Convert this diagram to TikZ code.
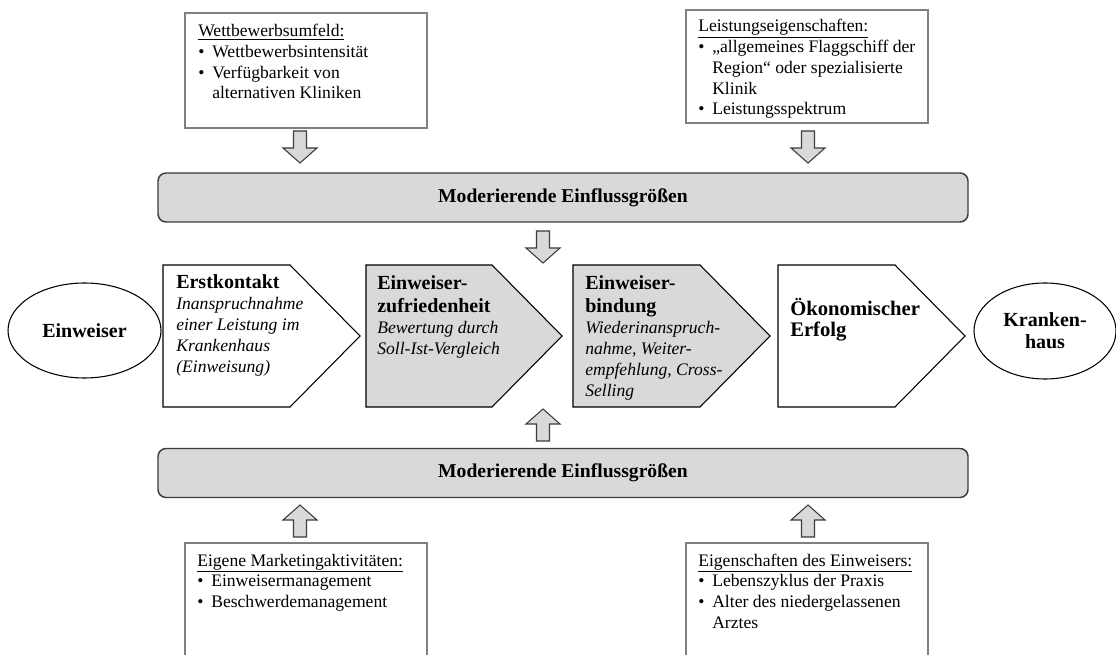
\documentclass[tikz,border=0pt]{standalone}
\usepackage{fontspec}
\setmainfont{Liberation Serif}
\usetikzlibrary{shapes.geometric}
\definecolor{fillg}{RGB}{217,217,217}
\definecolor{frameg}{RGB}{128,128,128}
\definecolor{edged}{RGB}{60,60,60}
\newcommand{\mylines}[1]{\begin{tabular}[t]{@{}l@{}}#1\end{tabular}}
\newcommand{\mybul}{\makebox[10.5pt][l]{•}}
\newcommand{\myind}{\hspace*{10.5pt}}
\newcommand{\mydownarrow}[2]{\draw[barrow] ({#1-6.5},#2) -- ({#1+6.5},#2) -- ({#1+6.5},{#2+17}) -- ({#1+17},{#2+17}) -- (#1,{#2+32}) -- ({#1-17},{#2+17}) -- ({#1-6.5},{#2+17}) -- cycle;}
\newcommand{\myuparrow}[2]{\draw[barrow] (#1,#2) -- ({#1+17},{#2+15}) -- ({#1+6.5},{#2+15}) -- ({#1+6.5},{#2+32}) -- ({#1-6.5},{#2+32}) -- ({#1-6.5},{#2+15}) -- ({#1-17},{#2+15}) -- cycle;}
\begin{document}
\begin{tikzpicture}[x=0.75pt,y=-0.75pt,
  infobox/.style={draw=frameg, line width=0.9pt, minimum width=181.5pt, inner sep=0pt},
  modbox/.style={draw=edged, fill=fillg, line width=1.1pt, rounded corners=6pt, minimum width=607.5pt, minimum height=36.75pt, font=\fontsize{14.7}{17}\selectfont\bfseries},
  chev/.style={draw=black, line width=0.8pt, line join=miter},
  chevg/.style={chev, fill=fillg},
  barrow/.style={draw=edged, fill=fillg, line width=0.8pt, line join=miter},
  txt/.style={anchor=base west, inner sep=0pt, font=\fontsize{13.2}{15.5}\selectfont},
  ttl/.style={anchor=base west, inner sep=0pt, font=\fontsize{15}{17.25}\selectfont\bfseries},
  itx/.style={anchor=base west, inner sep=0pt, font=\fontsize{13.2}{15.75}\selectfont\itshape},
  oval/.style={draw=black, line width=0.8pt, ellipse, inner sep=0pt, align=center, font=\fontsize{15}{16.5}\selectfont\bfseries}]
\useasboundingbox (0,0) rectangle (1116,655);
\clip (0,0) rectangle (1116,655);

% info boxes
\node[infobox, minimum height=86.25pt] (wett) at (306,70.5) {};
\node[infobox, minimum height=84.75pt] (leist) at (807,66.5) {};
\node[infobox, minimum height=91.5pt] (eigen) at (306,604) {};
\node[infobox, minimum height=91.5pt] (einwe) at (807,604) {};

\node[txt] (wetttxt) at (198,37) {\mylines{\underline{Wettbewerbsumfeld:}\\ \mybul Wettbewerbsintensität\\ \mybul Verfügbarkeit von\\ \myind alternativen Kliniken}};
\node[txt] (leisttxt) at (698,32) {\mylines{\underline{Leistungseigenschaften:}\\ \mybul „allgemeines Flaggschiff der\\ \myind Region“ oder spezialisierte\\ \myind Klinik\\ \mybul Leistungsspektrum}};
\node[txt] (eigentxt) at (197,566) {\mylines{\underline{Eigene Marketingaktivitäten:}\\ \mybul Einweisermanagement\\ \mybul Beschwerdemanagement}};
\node[txt] (einwetxt) at (698,566) {\mylines{\underline{Eigenschaften des Einweisers:}\\ \mybul Lebenszyklus der Praxis\\ \mybul Alter des niedergelassenen\\ \myind Arztes}};

% moderating boxes
\node[modbox] (modtop) at (563,197.5) {Moderierende Einflussgrößen};
\node[modbox] (modbot) at (563,473) {Moderierende Einflussgrößen};

% block arrows
\mydownarrow{300}{131}
\mydownarrow{808}{131}
\mydownarrow{543}{231}
\myuparrow{543}{409}
\myuparrow{300}{505}
\myuparrow{808}{505}

% chevrons
\draw[chev]  (163,265) -- (290,265) -- (360,336) -- (290,407) -- (163,407) -- cycle;
\draw[chevg] (366,265) -- (492,265) -- (562,336) -- (492,407) -- (366,407) -- cycle;
\draw[chevg] (573,265) -- (700,265) -- (770,336) -- (700,407) -- (573,407) -- cycle;
\draw[chev]  (778,265) -- (895,265) -- (965,336) -- (895,407) -- (778,407) -- cycle;

\node[ttl] (t1) at (176,289) {Erstkontakt};
\node[itx] (b1) at (176,310) {\mylines{Inanspruchnahme\\einer Leistung im\\Krankenhaus\\(Einweisung)}};
\node[ttl] (t2) at (377,290) {\mylines{Einweiser-\\zufriedenheit}};
\node[itx] (b2) at (377,334) {\mylines{Bewertung durch\\Soll-Ist-Vergleich}};
\node[ttl] (t3) at (585,290) {\mylines{Einweiser-\\bindung}};
\node[itx] (b3) at (585,334) {\mylines{Wiederinanspruch-\\nahme, Weiter-\\empfehlung, Cross-\\Selling}};
\node[ttl, font=\fontsize{15.5}{15.75}\selectfont\bfseries] (t4) at (790,316) {\mylines{Ökonomischer\\Erfolg}};

% ellipses
\node[oval, minimum width=114.75pt, minimum height=71.25pt] (einw) at (84.5,330.5) {Einweiser};
\node[oval, minimum width=106.5pt, minimum height=72pt] (kh) at (1045,331) {Kranken-\\haus};
\end{tikzpicture}
\end{document}
